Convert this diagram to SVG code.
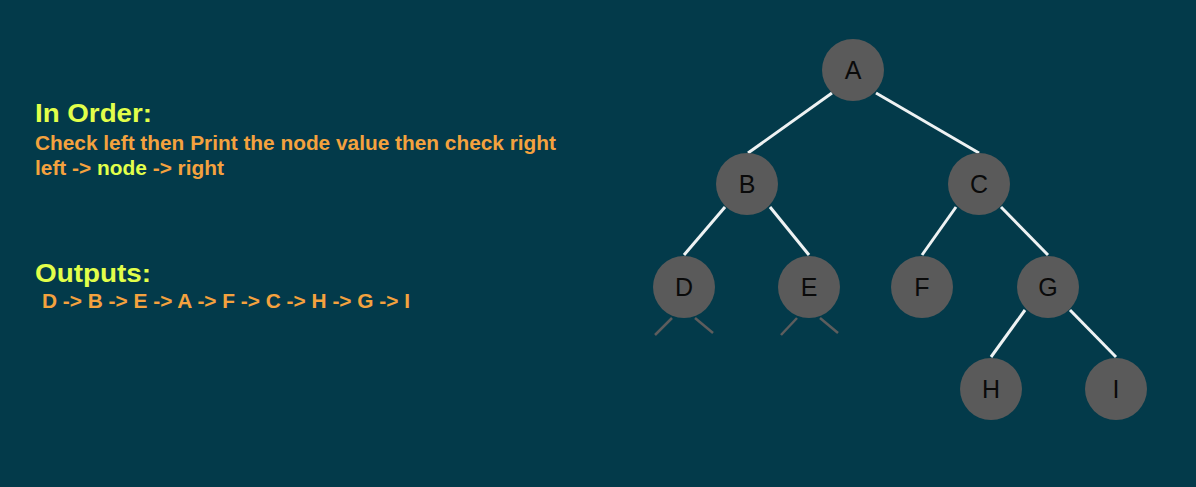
<svg xmlns="http://www.w3.org/2000/svg" width="1196" height="487" viewBox="0 0 1196 487">
<style>
.edge{stroke:#eef2f3;stroke-width:3;stroke-linecap:butt}
.stub{stroke:#5d5d5d;stroke-width:2.5}
.node circle{fill:#5a5a5a}
.node text{font-family:"Liberation Sans",Arial,sans-serif;font-size:25px;fill:#0a0a0a;text-anchor:middle}
.h{font-family:"Liberation Sans",Arial,sans-serif;font-weight:bold;font-size:26.5px;fill:#e2ff4a}
.t{font-family:"Liberation Sans",Arial,sans-serif;font-weight:bold;font-size:19.5px;fill:#f4a23e}
.y{fill:#e2ff4a}
</style>
<rect x="0" y="0" width="1196" height="487" fill="#033a4a"/>
<g id="text">
<text class="h" x="35" y="121.5" textLength="117" lengthAdjust="spacingAndGlyphs">In Order:</text>
<text class="t" x="35" y="150" textLength="521" lengthAdjust="spacingAndGlyphs">Check left then Print the node value then check right</text>
<text class="t" x="35" y="174.5" textLength="189" lengthAdjust="spacingAndGlyphs">left -&gt; <tspan class="y">node</tspan> -&gt; right</text>
<text class="h" x="35" y="281.5" textLength="116" lengthAdjust="spacingAndGlyphs">Outputs:</text>
<text class="t" x="42" y="308" textLength="368" lengthAdjust="spacingAndGlyphs">D -&gt; B -&gt; E -&gt; A -&gt; F -&gt; C -&gt; H -&gt; G -&gt; I</text>
</g>
<g id="connectors">
<line class="edge" x1="832" y1="93" x2="748" y2="153"/>
<line class="edge" x1="876" y1="93" x2="979" y2="153"/>
<line class="edge" x1="725" y1="207" x2="684" y2="255"/>
<line class="edge" x1="770" y1="207" x2="809" y2="255"/>
<line class="edge" x1="956" y1="207" x2="922" y2="255"/>
<line class="edge" x1="1001" y1="207" x2="1048" y2="255"/>
<line class="edge" x1="1025" y1="310" x2="991" y2="357"/>
<line class="edge" x1="1070" y1="310" x2="1116" y2="357"/>
<line class="stub" x1="672" y1="318" x2="655" y2="335"/>
<line class="stub" x1="695" y1="318" x2="713" y2="333"/>
<line class="stub" x1="797" y1="318" x2="781" y2="335"/>
<line class="stub" x1="820" y1="318" x2="838" y2="333"/>
</g>
<g id="node-A" class="node"><circle cx="853" cy="70" r="31"/><text x="853" y="79">A</text></g>
<g id="node-B" class="node"><circle cx="747" cy="184" r="31"/><text x="747" y="193">B</text></g>
<g id="node-C" class="node"><circle cx="979" cy="184" r="31"/><text x="979" y="193">C</text></g>
<g id="node-D" class="node"><circle cx="684" cy="287" r="31"/><text x="684" y="296">D</text></g>
<g id="node-E" class="node"><circle cx="809" cy="287" r="31"/><text x="809" y="296">E</text></g>
<g id="node-F" class="node"><circle cx="922" cy="287" r="31"/><text x="922" y="296">F</text></g>
<g id="node-G" class="node"><circle cx="1048" cy="287" r="31"/><text x="1048" y="296">G</text></g>
<g id="node-H" class="node"><circle cx="991" cy="389" r="31"/><text x="991" y="398">H</text></g>
<g id="node-I" class="node"><circle cx="1116" cy="389" r="31"/><text x="1116" y="398">I</text></g>
</svg>
